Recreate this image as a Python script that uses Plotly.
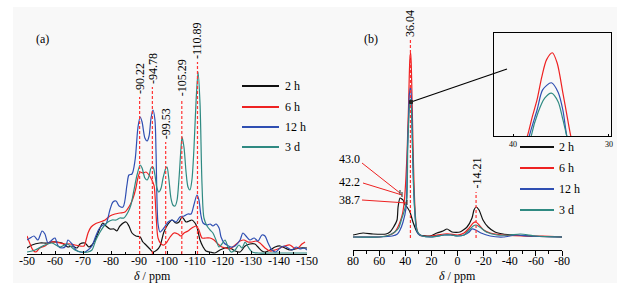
import plotly.graph_objects as go

# ---------------- data: panel (a) 29Si spectra ----------------
A_2H_PPM = [-50.0,-51.8,-54.6,-57.1,-58.9,-60.7,-62.5,-63.6,-64.6,-66.1,-67.9,-68.9,-70.7,-72.1,-73.2,-74.3,-76.1,-77.1,-78.2,-79.6,
            -81.1,-82.1,-83.2,-85.4,-86.4,-87.5,-88.9,-90.4,-91.4,-92.5,-93.9,-95.0,-96.4,-97.5,-98.9,-100.4,-101.8,-103.2,-104.3,-105.4,
            -106.8,-107.9,-108.9,-110.0,-110.7,-111.8,-112.9,-113.9,-115.4,-117.1,-118.9,-120.7,-122.5,-124.3,-126.1,-127.9,-129.6,-131.4,-132.5,-133.9,
            -135.0,-136.8,-138.6,-140.4,-142.1,-143.9,-145.7,-147.5,-150.0]
A_2H = [6,9,11,11,12,12,11,9,7,8, 6,10,11,7,9,14,26,31,28,25, 25,23,28,32,28,21,18,17,12,9, 5,2,4,8,22,30,34,31,32,37,
        32,33,34,31,27,14,7,3,2,1, 4,6,6,3,2,8,10,10,7,3, 2,4,7,8,6,4,5,6,6]

A_6H_PPM = [-50.0,-51.1,-52.1,-53.2,-54.6,-56.4,-58.2,-60.0,-61.8,-63.6,-65.4,-67.1,-68.9,-70.4,-71.1,-71.8,-72.9,-74.3,-76.1,-77.9,
            -79.6,-81.4,-83.2,-85.0,-86.8,-87.9,-88.9,-89.6,-90.4,-91.4,-92.5,-93.6,-94.6,-95.4,-96.1,-96.8,-97.9,-98.9,-100.0,-101.1,
            -102.5,-103.9,-105.0,-106.1,-107.5,-108.9,-110.4,-111.4,-112.5,-113.9,-115.4,-116.8,-118.2,-119.6,-121.1,-122.5,-123.9,-126.1,-127.5,-128.9,
            -130.4,-131.8,-133.2,-135.0,-136.8,-138.6,-140.4,-142.1,-143.9,-145.4,-146.8,-148.2,-149.3]
A_6H = [18,10,4,2,6,8,12,12,11,10, 10,9,8,8,14,21,27,30,32,34, 38,40,41,42,49,56,66,76,82,81, 82,79,74,68,39,16,10,9,12,17,
        21,20,18,21,23,26,28,24,16,16, 16,14,10,7,6,5,8,13,14,12, 12,13,11,6,3,4,6,8,9,6, 6,10,12]

A_12H_PPM = [-50.0,-51.1,-52.5,-53.9,-55.4,-56.4,-57.5,-58.9,-60.0,-61.1,-62.5,-63.9,-64.6,-66.1,-67.5,-68.9,-70.7,-71.8,-73.2,-74.3,
             -75.7,-77.1,-78.2,-79.6,-80.7,-81.8,-82.9,-84.3,-85.7,-86.4,-87.5,-88.6,-89.6,-90.4,-91.1,-92.1,-92.9,-93.6,-94.3,-95.0,
             -95.7,-96.1,-96.8,-97.5,-98.9,-100.4,-101.8,-103.2,-104.6,-106.1,-107.5,-108.6,-109.6,-110.7,-111.4,-112.1,-112.9,-114.3,-115.4,-116.4,
             -117.5,-118.6,-119.3,-120.4,-121.4,-122.9,-124.3,-126.1,-127.1,-128.2,-129.6,-131.1,-132.5,-133.9,-135.0,-136.1,-137.5,-138.9,-140.4,-141.8,
             -143.2,-144.6,-146.1,-147.5,-148.9,-150.0]
A_12H = [14,16,18,14,23,20,11,14,16,8, 6,8,14,10,4,2,2,4,8,16, 25,29,30,44,52,53,48,47,69,79, 80,94,126,137,132,116,113,118,136,144,
         134,100,30,22,26,32,34,32,37,38, 40,40,49,59,54,39,31,29,30,28, 30,26,17,11,9,7,8,14,21,18, 14,16,13,19,18,11,4,2,6,8,
         6,4,7,5,6,4]

A_3D_PPM = [-50.0,-52.9,-56.4,-58.9,-61.8,-64.3,-67.1,-69.6,-71.8,-73.2,-74.6,-76.1,-77.5,-78.9,-80.4,-81.8,-83.2,-84.6,-86.1,-87.1,
            -88.2,-89.3,-90.4,-91.1,-92.1,-92.9,-93.6,-94.3,-95.0,-95.7,-96.4,-97.1,-97.9,-98.6,-99.6,-100.0,-100.7,-101.4,-102.1,-102.9,
            -103.6,-104.3,-105.0,-105.4,-106.1,-106.8,-107.5,-108.2,-108.9,-109.6,-110.4,-111.1,-111.8,-112.5,-113.2,-114.3,-115.4,-116.4,-117.5,-118.6,
            -119.6,-120.7,-121.8,-122.9,-124.3,-125.7,-126.8,-127.9,-129.0,-130.4,-132.5,-136.8,-150.0]
A_3D = [2,4,9,11,7,10,4,2,2,4, 14,22,28,32,34,34,36,36,42,49, 64,79,89,86,76,74,78,86,87,79, 66,62,66,76,86,87,74,56,49,48,
        54,76,106,117,106,82,67,64,74,104, 154,182,150,70,36,28,24,21,14,7, 10,14,7,2,4,9,6,12,7,2, 1,1,1]

A_PEAKS = [-90.22, -94.78, -99.53, -105.29, -110.89]
A_PEAK_LABELS = ["-90.22", "-94.78", "-99.53", "-105.29", "-110.89"]
A_PEAK_TOP = [157, 167, 112, 155, 192]
A_TICKS = [-50, -60, -70, -80, -90, -100, -110, -120, -130, -140, -150]
A_TICKTEXT = ["-50", "-60", "-70", "-80", "-90", "-100", "-110", "-120", "-130", "-140", "-150"]

# ---------------- data: panel (b) 13C spectra ----------------
B_2H_PPM = [80,72.3,64.7,54.7,51.7,49.4,46.3,45.5,44.0,41.7, 40.2,38.7,36.4,34.1,31.0,28.7,21.0,15.7,11.1,8.0,
            4.2,-1.9,-7.3,-11.1,-12.6,-14.2,-16.5,-19.5,-23.4,-28.7, -34.9,-42.5,-53.2,-80]
B_2H = [3,5,4,4,6,10,18,31,40,38, 33,31,26,16,6,3,2,5,7,9, 6,6,11,20,28,31,28,18,11,6, 4,3,2,1]

B_6H_PPM = [80,70,60,52,48,46,44,42,40.5,39.5, 38.5,38.0,37.5,37.0,36.5,35.9,35.4,34.8,34.3,34.0,
            33.3,32.5,31.5,30.5,29,27,20,10,6,0, -5,-9,-12,-14.2,-16.5,-20,-25,-35,-50,-65, -80]
B_6H = [1,1,1,3,6,10,16,25,40,60, 89,111,131,158,178,186,174,139,108,90, 55,28,12,6,3,2,2,4,4,3, 5,10,15,16,13,8,5,3,2,2, 1]

B_12H_PPM = [80,60,50,46,44,41.7,39.4,38.3,37.5,36.9, 36.0,35.3,34.8,34.4,33.6,32.5,31.5,30,27,20,
             10,5,0,-5,-9,-11,-14,-18,-25,-35, -45,-55,-80]
B_12H = [1,1,2,4,8,16,30,89,119,143, 151,140,119,89,50,22,9,4,2,1, 3,3,2,3,6,9,8,5,2,1, 3,2,1]

B_3D_PPM = [80,60,52,48,45,43,41,39.5,38.7,38.1, 37.4,36.7,36.0,35.3,34.8,34.4,33.6,32.5,31.5,30,
            27,20,10,5,0,-5,-9,-12,-14.2,-17, -22,-30,-40,-48,-60,-80]
B_3D = [1,1,3,6,10,18,26,34,40,89, 116,133,139,129,108,89,52,24,10,5, 2,1,3,3,2,3,8,12,13,11, 6,3,3,4,2,1]

B_PEAKS = [36.04, -14.21]
B_PEAK_LABELS = ["36.04", "-14.21"]
B_PEAK_TOP = [198, 46]
B_TICKS = [80, 60, 40, 20, 0, -20, -40, -60, -80]
B_TICKTEXT = ["80", "60", "40", "20", "0", "-20", "-40", "-60", "-80"]
INSET_TICKS = [40, 30]
INSET_TICKTEXT = ["40", "30"]

SERIES = ["2 h", "6 h", "12 h", "3 d"]
COLORS = ["#111111", "#ee2222", "#2f4fb2", "#2f8a82"]

# ---------------- figure ----------------
W, H = 628, 288
FONT = "Liberation Serif, Times New Roman, serif"
FS = 12


def fx(px):
    return px / W


def fy(py):
    return 1 - py / H


fig = go.Figure()
a_sets = [(A_2H_PPM, A_2H), (A_6H_PPM, A_6H), (A_12H_PPM, A_12H), (A_3D_PPM, A_3D)]
b_sets = [(B_2H_PPM, B_2H), (B_6H_PPM, B_6H), (B_12H_PPM, B_12H), (B_3D_PPM, B_3D)]

for (xs, ys), name, col in zip(a_sets, SERIES, COLORS):
    fig.add_trace(go.Scatter(x=xs, y=ys, mode="lines", name=name, showlegend=False,
                             line=dict(color=col, width=1.2, shape="spline", smoothing=0.8),
                             xaxis="x", yaxis="y"))
for (xs, ys), name, col in zip(b_sets, SERIES, COLORS):
    fig.add_trace(go.Scatter(x=xs, y=ys, mode="lines", name=name, showlegend=False,
                             line=dict(color=col, width=1.2, shape="spline", smoothing=0.6),
                             xaxis="x2", yaxis="y2"))
for (xs, ys), name, col in zip(b_sets, SERIES, COLORS):
    fig.add_trace(go.Scatter(x=xs, y=ys, mode="lines", name=name, showlegend=False,
                             line=dict(color=col, width=1.2, shape="spline", smoothing=0.8),
                             xaxis="x3", yaxis="y3"))

tickfont = dict(family=FONT, size=FS, color="black")
txtfont = dict(family=FONT, size=FS, color="black")
shapes = []
annotations = []

# light background panel
shapes.append(dict(type="rect", xref="paper", yref="paper", x0=fx(13), x1=fx(617), y0=fy(283), y1=fy(7),
                   fillcolor="#f8f8f8", line=dict(width=0), layer="below"))

# peak marker lines + labels
for p, lab, top in zip(A_PEAKS, A_PEAK_LABELS, A_PEAK_TOP):
    shapes.append(dict(type="line", xref="x", yref="y", x0=p, x1=p, y0=0, y1=top,
                       line=dict(color="#ff3333", width=1.2, dash="3px,2px")))
    annotations.append(dict(xref="x", yref="y", x=p, y=top + 1, text=lab, showarrow=False,
                            textangle=-90, xanchor="center", yanchor="bottom", font=txtfont))
for p, lab, top in zip(B_PEAKS, B_PEAK_LABELS, B_PEAK_TOP):
    shapes.append(dict(type="line", xref="x2", yref="y2", x0=p, x1=p, y0=0, y1=top,
                       line=dict(color="#ff3333", width=1.2, dash="3px,2px")))
    annotations.append(dict(xref="x2", yref="y2", x=p, y=top + 1, text=lab, showarrow=False,
                            textangle=-90, xanchor="center", yanchor="bottom", font=txtfont))

# shoulder labels with leader lines in panel (b)
leaders = [("43.0", 159, (362, 163), (400, 193)),
           ("42.2", 182, (363, 183), (402, 195)),
           ("38.7", 200, (362, 200), (407, 203))]
for txt, ty, (sx, sy), (ex, ey) in leaders:
    annotations.append(dict(xref="paper", yref="paper", x=fx(362), y=fy(ty), text=txt, showarrow=False,
                            xanchor="right", yanchor="middle", font=txtfont))
    shapes.append(dict(type="line", xref="paper", yref="paper", x0=fx(sx), y0=fy(sy), x1=fx(ex), y1=fy(ey),
                       line=dict(color="#ee2222", width=1)))
    # small black cursor mark at the leader end
    shapes.append(dict(type="line", xref="paper", yref="paper", x0=fx(ex), y0=fy(ey - 3), x1=fx(ex), y1=fy(ey + 2),
                       line=dict(color="#222222", width=1)))

# connector from main peak to inset
shapes.append(dict(type="line", xref="paper", yref="paper", x0=fx(411), y0=fy(102), x1=fx(507), y1=fy(69),
                   line=dict(color="black", width=1.2)))
shapes.append(dict(type="rect", xref="paper", yref="paper", x0=fx(409.5), y0=fy(103.5), x1=fx(412.5), y1=fy(100.5),
                   line=dict(color="#222222", width=1), fillcolor="#222222"))

# legends
for i, (name, col) in enumerate(zip(SERIES, COLORS)):
    ya = [86, 107, 127, 147][i]
    yb = [147, 168, 189, 210][i]
    shapes.append(dict(type="line", xref="paper", yref="paper", x0=fx(242), x1=fx(279), y0=fy(ya), y1=fy(ya),
                       line=dict(color=col, width=1.8)))
    annotations.append(dict(xref="paper", yref="paper", x=fx(283), y=fy(ya), text=name, showarrow=False,
                            xanchor="left", yanchor="middle", font=txtfont))
    shapes.append(dict(type="line", xref="paper", yref="paper", x0=fx(520), x1=fx(554), y0=fy(yb), y1=fy(yb),
                       line=dict(color=col, width=1.8)))
    annotations.append(dict(xref="paper", yref="paper", x=fx(557), y=fy(yb), text=name, showarrow=False,
                            xanchor="left", yanchor="middle", font=txtfont))

# panel tags and axis titles
for tx, ty, t in [(42, 39, "(a)"), (371, 39, "(b)"), (152, 276, "<i>δ</i> / ppm"), (457, 276, "<i>δ</i> / ppm")]:
    annotations.append(dict(xref="paper", yref="paper", x=fx(tx), y=fy(ty), text=t, showarrow=False,
                            xanchor="center", yanchor="middle", font=txtfont))

fig.update_layout(
    template="none",
    width=W, height=H, margin=dict(l=0, r=0, t=0, b=0, pad=0, autoexpand=False),
    paper_bgcolor="white", plot_bgcolor="rgba(0,0,0,0)", showlegend=False,
    xaxis=dict(domain=[fx(27), fx(307)], range=[-50, -150], tickmode="array", tickvals=A_TICKS, ticktext=A_TICKTEXT,
               ticks="inside", ticklen=3, tickcolor="black", showline=True, linecolor="black", linewidth=1,
               showgrid=False, zeroline=False, tickfont=tickfont, anchor="y", automargin=False,
               ticklabelstandoff=-4,
               minor=dict(dtick=5, tick0=0, ticks="inside", ticklen=2, tickcolor="black", showgrid=False)),
    yaxis=dict(domain=[fy(254), fy(20)], range=[0, 234], visible=False, anchor="x", automargin=False),
    xaxis2=dict(domain=[fx(353), fx(562)], range=[80, -80], tickmode="array", tickvals=B_TICKS, ticktext=B_TICKTEXT,
                ticks="outside", ticklen=5, tickcolor="black", showline=True, linecolor="black", linewidth=1,
                showgrid=False, zeroline=False, tickfont=tickfont, anchor="y2", automargin=False,
                ticklabelstandoff=-5,
                minor=dict(dtick=10, tick0=0, ticks="outside", ticklen=3, tickcolor="black", showgrid=False)),
    yaxis2=dict(domain=[fy(250), fy(20)], range=[-12, 218], visible=False, anchor="x2", automargin=False),
    xaxis3=dict(domain=[fx(494), fx(611)], range=[41.98, 29.79], tickmode="array", tickvals=INSET_TICKS,
                ticktext=INSET_TICKTEXT, ticks="inside", ticklen=2, tickcolor="black", showline=True, mirror=True,
                linecolor="black", linewidth=1, showgrid=False, zeroline=False, automargin=False,
                tickfont=dict(family=FONT, size=8, color="black"), anchor="y3"),
    yaxis3=dict(domain=[fy(136), fy(33)], range=[89, 209], showline=True, mirror=True, linecolor="black",
                linewidth=1, showgrid=False, zeroline=False, showticklabels=False, ticks="", anchor="x3",
                automargin=False),
    shapes=shapes, annotations=annotations,
)

fig.write_html("out.html", config={"displayModeBar": False},
               post_script="document.body.style.margin='0';document.body.style.padding='0';"
                           "document.body.style.overflow='hidden';")
